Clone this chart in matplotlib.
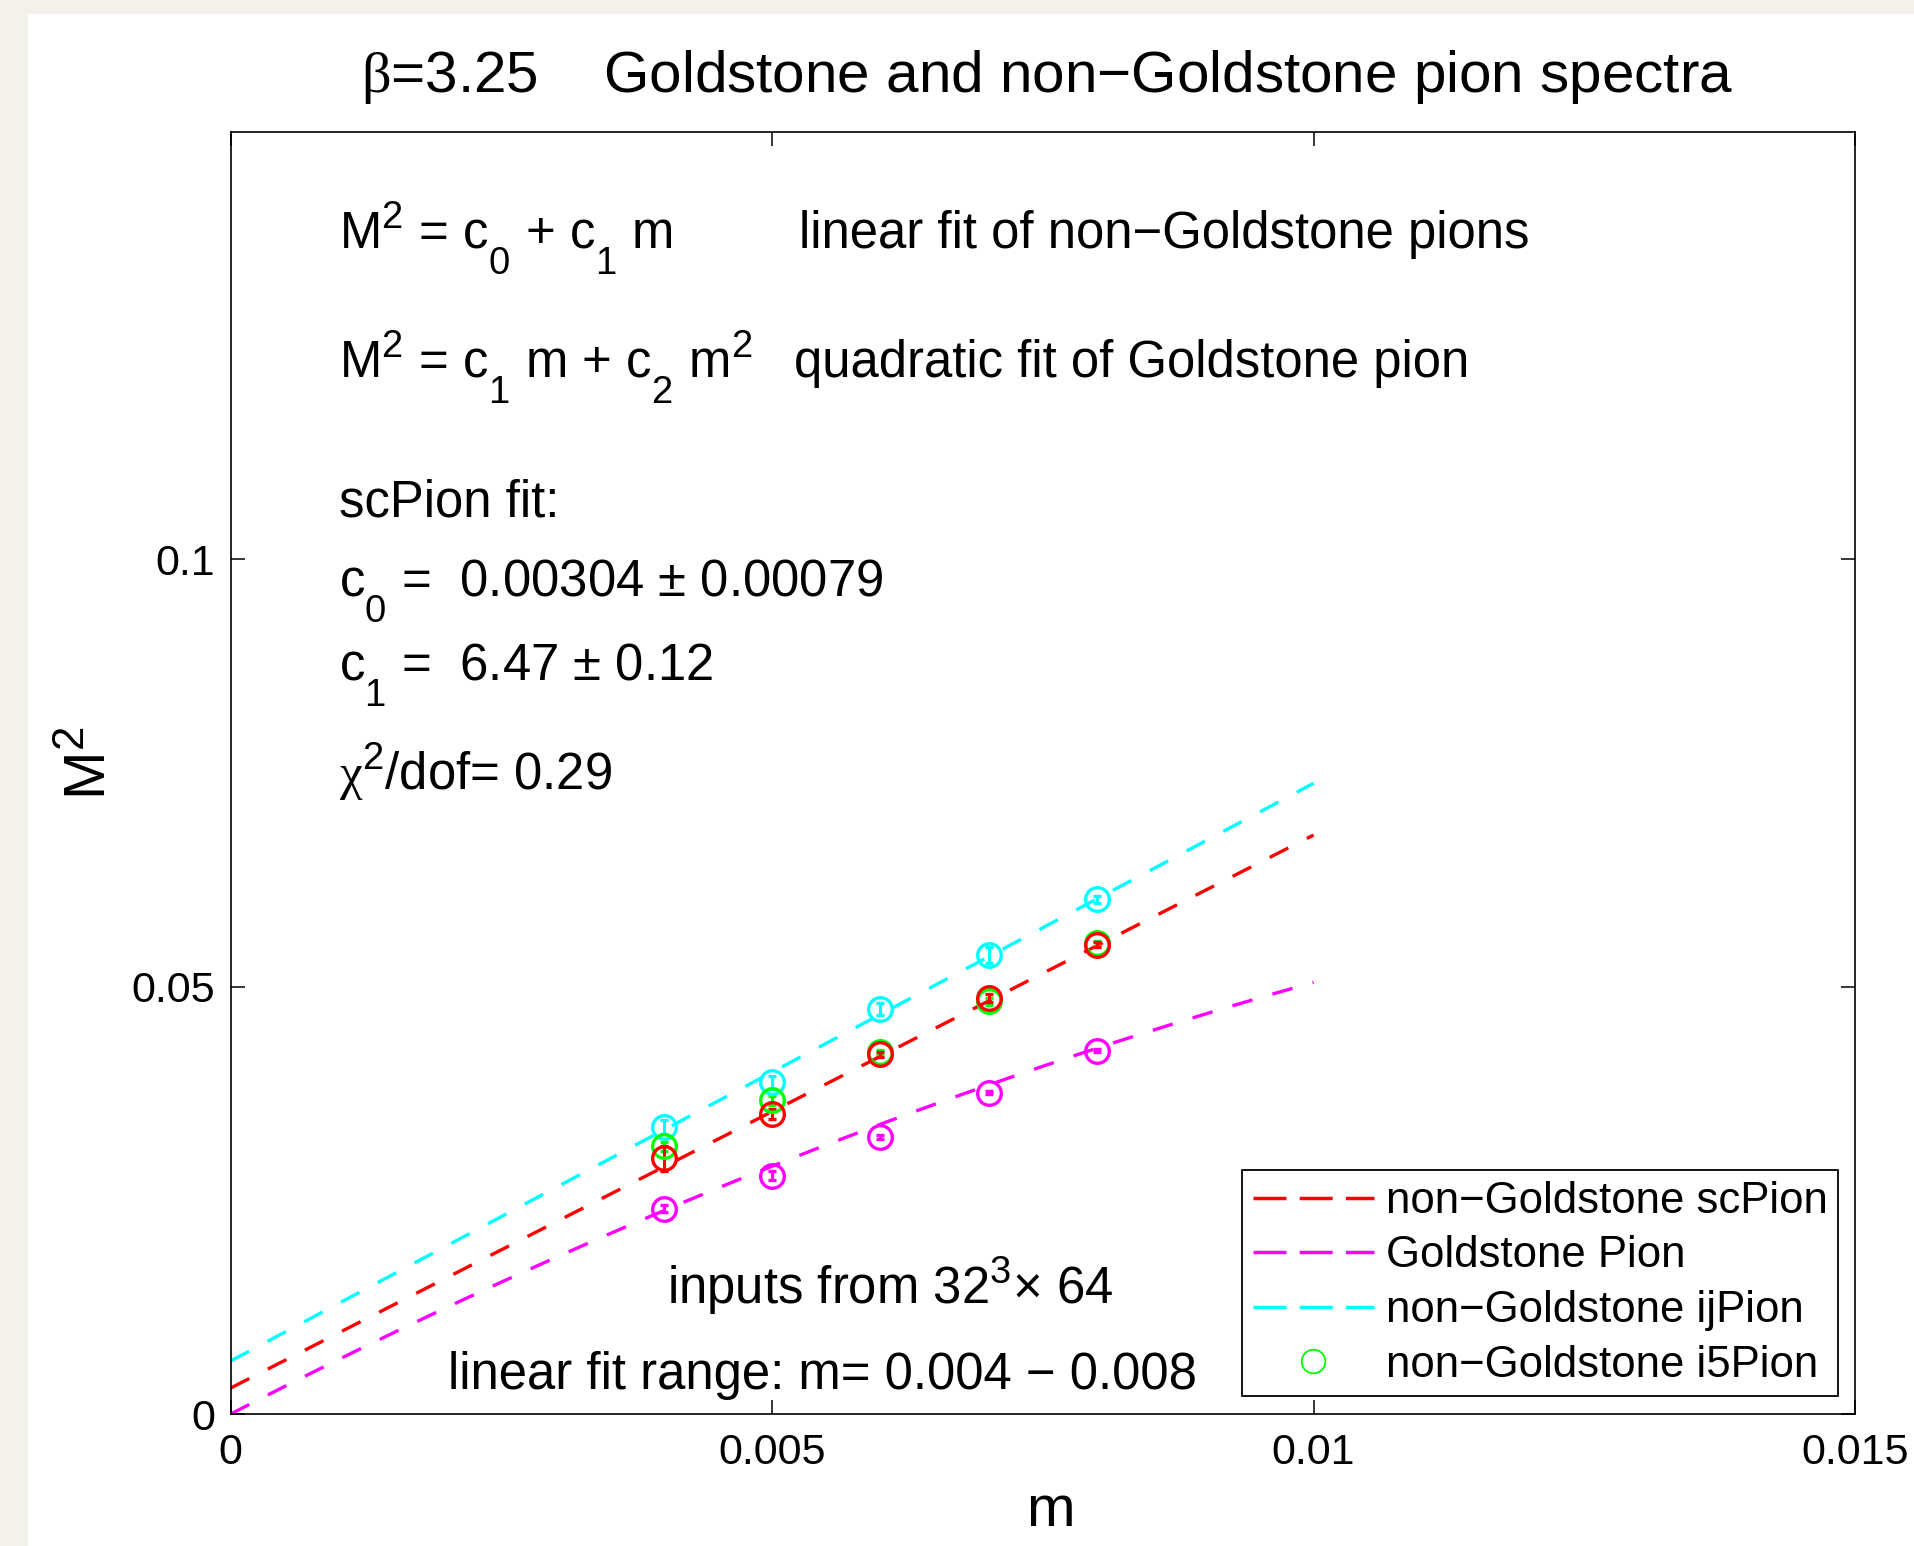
import matplotlib
matplotlib.use("Agg")
import matplotlib.pyplot as plt
import matplotlib._mathtext as mathtext_impl
from matplotlib.patches import Rectangle
from matplotlib.lines import Line2D
import numpy as np

plt.rcParams['font.family'] = ['Liberation Sans', 'DejaVu Sans']
plt.rcParams['mathtext.fontset'] = 'custom'
plt.rcParams['mathtext.rm'] = 'Liberation Sans'
plt.rcParams['mathtext.it'] = 'Liberation Sans:italic'
plt.rcParams['mathtext.tt'] = 'Liberation Serif'

# MATLAB-like scripts: a bit larger, subscripts dropped lower
mathtext_impl.SHRINK_FACTOR = 0.75
mathtext_impl.FontConstantsBase.sub1 = 0.95

# quark masses and measured pion masses squared
m_vals = [0.004, 0.005, 0.006, 0.007, 0.008]

sc_M2 = [0.0299, 0.0351, 0.0421, 0.0487, 0.0549]
sc_err = [0.0015, 0.0006, 0.0003, 0.0005, 0.0003]

gold_M2 = [0.0240, 0.0279, 0.0324, 0.0376, 0.0425]
gold_err = [0.0004, 0.0005, 0.0002, 0.0002, 0.0002]

ij_M2 = [0.0336, 0.0388, 0.0474, 0.0537, 0.0602]
ij_err = [0.0008, 0.0008, 0.0007, 0.0009, 0.0004]

i5_M2 = [0.0313, 0.0367, 0.0423, 0.0483, 0.0551]
i5_err = [0.0005, 0.0005, 0.0003, 0.0004, 0.0003]

# fit coefficients
sc_c0, sc_c1 = 0.00304, 6.47
ij_c0, ij_c1 = 0.0062, 6.76
gold_c1, gold_c2 = 6.55, -150.0
fit_m_max = 0.01

x_ticks = [0, 0.005, 0.01, 0.015]
x_ticklabels = ["0", "0.005", "0.01", "0.015"]
y_ticks = [0, 0.05, 0.1]
y_ticklabels = ["0", "0.05", "0.1"]

W, H = 1914, 1546
fig = plt.figure(figsize=(W / 100, H / 100), dpi=100, facecolor='#f4f1ea')
fig.patches.append(Rectangle((28 / W, 0), 1 - 28 / W, 1 - 14 / H,
                             transform=fig.transFigure, color='white', zorder=-10))

ax = fig.add_axes([230.7 / W, 1 - 1414 / H, (1855 - 230.7) / W, (1414 - 132) / H])
ax.set_zorder(1)

mm = np.linspace(0, fit_m_max, 200)
lw = 2.4
dash = (0, (6.25, 6.25))
ax.plot(mm, ij_c0 + ij_c1 * mm, color='#00ffff', lw=lw, ls=dash)
ax.plot(mm, sc_c0 + sc_c1 * mm, color='#ff0000', lw=lw, ls=dash)
ax.plot(mm, gold_c1 * mm + gold_c2 * mm ** 2, color='#ff00ff', lw=lw, ls=dash)

pt_kw = dict(fmt='o', ms=17, mfc='none', mew=2.4, elinewidth=2.2, capsize=3, capthick=2.2)
ax.errorbar(m_vals, ij_M2, yerr=ij_err, color='#00ffff', **pt_kw)
ax.errorbar(m_vals, i5_M2, yerr=i5_err, color='#00ff00', **pt_kw)
ax.errorbar(m_vals, sc_M2, yerr=sc_err, color='#ff0000', **pt_kw)
ax.errorbar(m_vals, gold_M2, yerr=gold_err, color='#ff00ff', **pt_kw)

ax.set_xlim(0, 0.015)
ax.set_ylim(0, 0.15)
ax.set_xticks(x_ticks)
ax.set_xticklabels(x_ticklabels)
ax.set_yticks(y_ticks)
ax.set_yticklabels(y_ticklabels)
ax.tick_params(direction='in', length=10, width=1.1, labelsize=31, top=True, right=True)
ax.tick_params(axis='x', pad=14)
ax.tick_params(axis='y', pad=11)
for s in ax.spines.values():
    s.set_linewidth(1.2)

# axis labels
ax.text(0.505, -0.0874, "m", transform=ax.transAxes, ha='center', va='baseline', fontsize=42)
ax.text(-0.0868, 0.5078, "M$^2$", transform=ax.transAxes, rotation=90,
        ha='center', va='center', fontsize=42)

fig.text(1047 / W, 1 - 92 / H,
         r"$\mathtt{\beta}$=3.25    Goldstone and non$-$Goldstone pion spectra",
         ha='center', va='baseline', fontsize=42)

fs = 36.6
ax.text(0.001, 0.1364, "M$^2$ = c$_0$ + c$_1$ m", fontsize=fs, va='baseline')
ax.text(0.00525, 0.1364, "linear fit of non\u2212Goldstone pions", fontsize=fs, va='baseline')
ax.text(0.001, 0.1213, "M$^2$ = c$_1$ m + c$_2$ m$^2$", fontsize=fs, va='baseline')
ax.text(0.0052, 0.1213, "quadratic fit of Goldstone pion", fontsize=fs, va='baseline')
ax.text(0.001, 0.1050, "scPion fit:", fontsize=fs, va='baseline')
ax.text(0.001, 0.0958, f"c$_0$ =  {sc_c0:.5f} \u00b1 0.00079", fontsize=fs, va='baseline')
ax.text(0.001, 0.0858, f"c$_1$ =  {sc_c1:.2f} \u00b1 0.12", fontsize=fs, va='baseline')
ax.text(0.001, 0.0730, r"$\mathtt{\chi}^2$/dof= 0.29", fontsize=fs, va='baseline')
ax.text(0.00403, 0.0129, "inputs from 32$^3$\u00d7 64", fontsize=fs, va='baseline')
ax.text(0.00201, 0.0029, "linear fit range: m= 0.004 \u2212 0.008", fontsize=fs, va='baseline')

leg_dash = (0, (9.5, 3.8))
handles = [
    Line2D([], [], color='#ff0000', lw=2.5, ls=leg_dash),
    Line2D([], [], color='#ff00ff', lw=2.5, ls=leg_dash),
    Line2D([], [], color='#00ffff', lw=2.5, ls=leg_dash),
    Line2D([], [], color='#00ff00', lw=0, marker='o', ms=17, mfc='none', mew=1.3),
]
labels = ["non\u2212Goldstone scPion", "Goldstone Pion",
          "non\u2212Goldstone ijPion", "non\u2212Goldstone i5Pion"]
leg = ax.legend(handles, labels, loc='lower right', bbox_to_anchor=(0.9895, 0.014),
                borderaxespad=0, fontsize=31.5, handlelength=2.77, handletextpad=0.27,
                borderpad=0.24, labelspacing=0.31, fancybox=False, framealpha=1,
                edgecolor='black')
leg.get_frame().set_linewidth(1.3)

fig.savefig("out.png", dpi=100, facecolor=fig.get_facecolor())
